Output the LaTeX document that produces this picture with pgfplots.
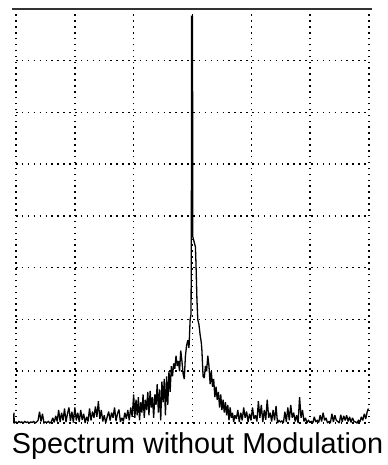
\documentclass[border=0pt]{standalone}
\usepackage{pgfplots}
\pgfplotsset{compat=1.18}
\usepackage{fontspec}
\setmainfont{Liberation Sans}
\begin{document}
\begin{tikzpicture}
\path[use as bounding box] (0,0) rectangle (388bp,465bp);
\begin{axis}[
  at={(16bp,42bp)}, anchor=south west,
  scale only axis, width=353bp, height=414bp,
  xmin=0, xmax=6, ymin=0, ymax=8,
  xtick={0,...,6}, ytick={0,...,8},
  xticklabels={}, yticklabels={},
  major tick length=0pt,
  grid=major,
  major grid style={black, line width=1.5bp, dash pattern=on 1.5bp off 4.4bp},
  axis line style={draw=none},
  clip=false,
]
\addplot[black, line width=1.3bp, line join=miter, miter limit=2] coordinates {
(-0.04,0.0)(-0.035,0.2)(-0.03,0.0)(0.0,0.02)(0.025,0.0)(0.05,0.03)(0.075,0.01)(0.1,0.02)(0.125,0.0)(0.15,0.03)(0.175,0.01)(0.2,0.02)(0.225,0.0)(0.25,0.02)(0.275,0.01)(0.3,0.03)(0.325,0.0)(0.35,0.02)(0.375,0.05)(0.4,0.22)(0.425,0.03)(0.45,0.18)(0.475,0.0)(0.5,0.02)(0.525,0.01)(0.55,0.03)(0.575,0.0)(0.6,0.02)(0.625,0.1)(0.65,0.01)(0.675,0.14)(0.7,0.03)(0.725,0.25)(0.75,0.02)(0.775,0.2)(0.8,0.05)(0.825,0.28)(0.85,0.02)(0.875,0.18)(0.9,0.3)(0.925,0.04)(0.95,0.22)(0.975,0.01)(1.0,0.3)
(1.025,0.05)(1.05,0.2)(1.075,0.02)(1.1,0.25)(1.125,0.06)(1.15,0.18)(1.175,0.0)(1.2,0.12)(1.225,0.03)(1.25,0.28)(1.275,0.05)(1.3,0.22)(1.325,0.1)(1.35,0.32)(1.375,0.12)(1.4,0.42)(1.425,0.08)(1.45,0.25)(1.475,0.03)(1.5,0.15)(1.525,0.0)(1.55,0.12)(1.575,0.22)(1.6,0.05)(1.625,0.2)(1.65,0.1)(1.675,0.3)(1.7,0.04)(1.725,0.18)(1.75,0.26)(1.775,0.02)(1.8,0.1)(1.825,0.03)(1.85,0.2)(1.875,0.08)(1.9,0.25)(1.925,0.05)(1.95,0.3)(1.975,0.12)(2.0,0.55)
(2.02,0.1)(2.04,0.45)(2.06,0.15)(2.08,0.5)(2.1,0.05)(2.12,0.4)(2.14,0.2)(2.16,0.55)(2.18,0.1)(2.2,0.45)(2.22,0.25)(2.24,0.6)(2.26,0.15)(2.28,0.62)(2.3,0.3)(2.32,0.5)(2.34,0.1)(2.36,0.55)(2.38,0.35)(2.4,0.75)(2.42,0.2)(2.44,0.65)(2.46,0.05)(2.48,0.8)(2.5,0.4)(2.52,0.85)(2.54,0.15)(2.56,0.9)(2.58,0.35)(2.6,1.0)(2.62,0.6)(2.64,1.1)(2.66,0.9)(2.68,1.15)(2.7,1.05)(2.72,1.3)(2.74,1.1)(2.76,1.2)(2.78,1.0)(2.8,1.4)(2.82,1.2)(2.84,0.95)(2.86,0.85)(2.88,1.3)(2.9,1.5)(2.92,1.6)(2.94,1.45)(2.96,2.0)(2.975,2.1)(2.98,3.3)(2.985,7.86)(3.0,7.86)(3.005,3.6)(3.05,3.4)(3.06,3.05)(3.075,2.4)(3.09,2.0)(3.11,1.9)(3.13,1.7)(3.15,1.55)(3.16,1.4)(3.18,0.9)(3.2,0.87)(3.22,1.1)(3.24,1.0)(3.26,1.3)(3.28,1.1)(3.3,0.75)(3.32,1.0)(3.34,0.7)(3.36,0.85)(3.38,0.5)(3.4,0.7)(3.42,0.45)(3.44,0.6)(3.46,0.3)(3.48,0.55)(3.5,0.25)(3.52,0.45)(3.54,0.2)(3.56,0.4)(3.58,0.15)(3.6,0.35)(3.62,0.05)(3.64,0.3)(3.66,0.1)(3.68,0.2)(3.7,0.02)(3.72,0.15)
(3.745,0.08)(3.77,0.25)(3.795,0.02)(3.82,0.2)(3.845,0.05)(3.87,0.3)(3.895,0.1)(3.92,0.22)(3.945,0.02)(3.97,0.18)(3.995,0.05)(4.02,0.3)(4.045,0.08)(4.07,0.15)(4.095,0.03)(4.12,0.42)(4.145,0.1)(4.17,0.35)(4.195,0.02)(4.22,0.25)(4.245,0.06)(4.27,0.45)(4.295,0.1)(4.32,0.2)(4.345,0.03)(4.37,0.25)(4.395,0.05)(4.42,0.33)(4.445,0.0)(4.47,0.05)(4.495,0.02)(4.52,0.04)(4.545,0.0)(4.57,0.22)(4.595,0.02)(4.62,0.3)(4.645,0.05)(4.67,0.35)(4.695,0.1)(4.72,0.2)(4.745,0.03)(4.77,0.15)(4.795,0.0)(4.82,0.5)(4.845,0.1)(4.87,0.25)(4.895,0.03)(4.92,0.1)(4.945,0.0)(4.97,0.05)(4.995,0.02)(5.02,0.03)(5.045,0.0)(5.07,0.12)(5.095,0.02)(5.12,0.05)(5.145,0.01)(5.17,0.15)(5.195,0.03)(5.22,0.2)(5.245,0.05)(5.27,0.1)(5.295,0.0)(5.32,0.03)(5.345,0.01)(5.37,0.18)(5.395,0.02)(5.42,0.15)(5.445,0.05)(5.47,0.03)(5.495,0.0)(5.52,0.16)(5.545,0.02)(5.57,0.14)(5.595,0.05)(5.62,0.15)(5.645,0.03)(5.67,0.12)(5.695,0.01)(5.72,0.1)(5.745,0.03)(5.77,0.02)(5.795,0.0)(5.82,0.05)(5.845,0.02)(5.87,0.12)(5.895,0.05)(5.92,0.18)(5.945,0.08)(5.97,0.22)(5.99,0.28)
};
\draw[line width=2.5bp, black!80] ([xshift=-4bp]axis description cs:0,1) -- ([xshift=3bp]axis description cs:1,1);
\end{axis}
\node[anchor=base, inner sep=0pt, font=\fontsize{28.8bp}{30bp}\selectfont] at (197.5bp,12bp) {Spectrum without Modulation};
\end{tikzpicture}
\end{document}
